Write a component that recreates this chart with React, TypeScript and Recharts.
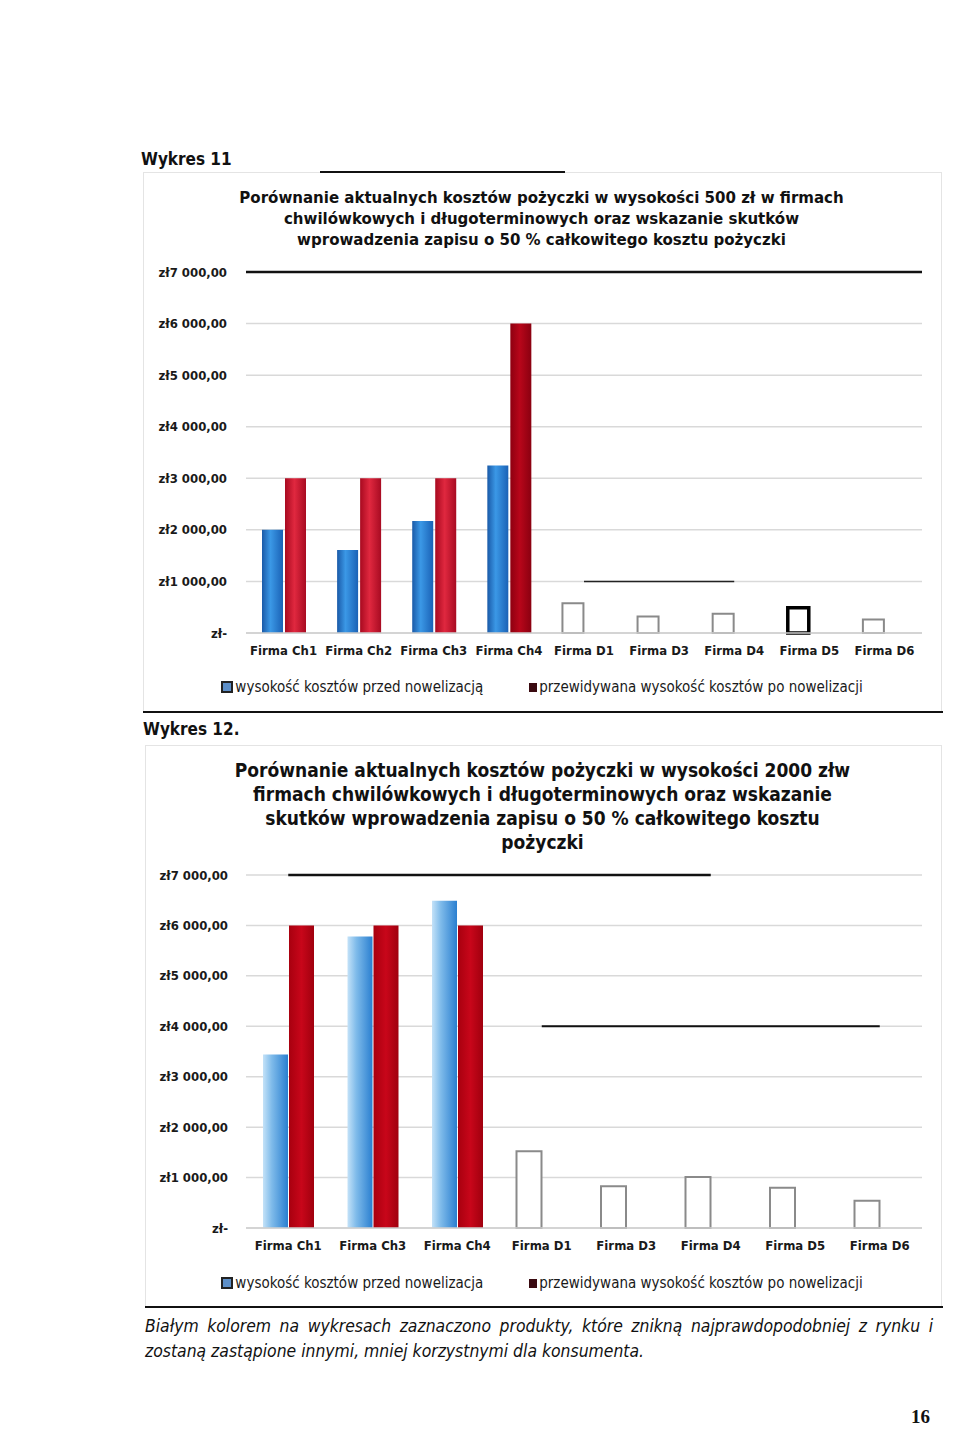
import React from "react";
import {
  BarChart,
  Bar,
  Cell,
  XAxis,
  YAxis,
  CartesianGrid,
  Legend,
  ReferenceLine,
} from "recharts";

// Wykres 11 - pożyczka 500 zł
const firms11 = [
  "Firma Ch1",
  "Firma Ch2",
  "Firma Ch3",
  "Firma Ch4",
  "Firma D1",
  "Firma D3",
  "Firma D4",
  "Firma D5",
  "Firma D6",
];
const before11 = [2000, 1610, 2170, 3250, 575, 320, 375, 490, 260];
const after11 = [3000, 3000, 3000, 6000, null, null, null, null, null];

// Wykres 12 - pożyczka 2000 zł
const firms12 = [
  "Firma Ch1",
  "Firma Ch3",
  "Firma Ch4",
  "Firma D1",
  "Firma D3",
  "Firma D4",
  "Firma D5",
  "Firma D6",
];
const before12 = [3440, 5780, 6490, 1520, 830, 1010, 800, 540];
const after12 = [6000, 6000, 6000, null, null, null, null, null];

const yTicks = [0, 1000, 2000, 3000, 4000, 5000, 6000, 7000];

const title11 = [
  "Porównanie aktualnych kosztów pożyczki w wysokości 500 zł w firmach",
  "chwilówkowych i długoterminowych oraz wskazanie skutków",
  "wprowadzenia zapisu o 50 % całkowitego kosztu pożyczki",
];
const title12 = [
  "Porównanie aktualnych kosztów pożyczki w wysokości 2000 złw",
  "firmach chwilówkowych i długoterminowych oraz wskazanie",
  "skutków wprowadzenia zapisu o 50 % całkowitego kosztu",
  "pożyczki",
];
const legendNames11 = [
  "wysokość kosztów przed nowelizacją",
  "przewidywana wysokość kosztów po nowelizacji",
];
const legendNames12 = [
  "wysokość kosztów przed nowelizacja",
  "przewidywana wysokość kosztów po nowelizacji",
];

const FONT = "'DejaVu Sans Condensed', 'Liberation Sans Narrow', sans-serif";

const formatZl = (v: number) => {
  if (v === 0) return "zł-";
  const th = Math.floor(v / 1000);
  const rest = String(v % 1000).padStart(3, "0");
  return `zł${th} ${rest},00`;
};

const buildRows = (
  firms: string[],
  before: number[],
  after: (number | null)[]
) =>
  firms.map((name, i) => ({
    name,
    before: before[i],
    after: after[i],
    removed: name.startsWith("Firma D"),
  }));

const rows11 = buildRows(firms11, before11, after11);
const rows12 = buildRows(firms12, before12, after12);

const makeLegend = (names: string[]) => () =>
  (
    <div
      style={{
        display: "flex",
        justifyContent: "center",
        gap: 46,
        fontFamily: FONT,
        fontSize: 15,
        color: "#1a1a1a",
        lineHeight: "24px",
        paddingLeft: 6,
      }}
    >
      <span style={{ display: "flex", alignItems: "center" }}>
        <span
          style={{
            width: 8,
            height: 8,
            border: "2px solid #222",
            background: "#5d8fc8",
            marginRight: 2,
          }}
        />
        {names[0]}
      </span>
      <span style={{ display: "flex", alignItems: "center" }}>
        <span
          style={{
            width: 8,
            height: 9,
            background: "#3a0a10",
            marginRight: 2,
          }}
        />
        {names[1]}
      </span>
    </div>
  );

const Box: React.FC<{
  top: number;
  left: number;
  width: number;
  height: number;
}> = ({ top, left, width, height }) => (
  <div
    style={{
      position: "absolute",
      top,
      left,
      width,
      height,
      border: "1px solid #e4e4e4",
      boxSizing: "border-box",
    }}
  />
);

const HLine: React.FC<{ top: number; left: number; width: number; h?: number }> = ({
  top,
  left,
  width,
  h = 2,
}) => (
  <div
    style={{
      position: "absolute",
      top,
      left,
      width,
      height: h,
      background: "#111",
    }}
  />
);

const App: React.FC = () => {
  return (
    <div
      style={{
        position: "absolute",
        left: 0,
        top: 0,
        width: 960,
        height: 1450,
        background: "#fff",
        fontFamily: FONT,
        color: "#111",
        overflow: "hidden",
      }}
    >
      {/* ---------- Wykres 11 ---------- */}
      <div
        style={{
          position: "absolute",
          left: 141,
          top: 149,
          fontSize: 17,
          fontWeight: "bold",
        }}
      >
        Wykres 11
      </div>
      <Box top={172} left={143} width={799} height={541} />
      <HLine top={171} left={320} width={245} />
      <div
        style={{
          position: "absolute",
          left: 143,
          top: 187,
          width: 797,
          textAlign: "center",
          fontSize: 16.7,
          fontWeight: "bold",
          lineHeight: "21px",
        }}
      >
        {title11.map((t) => (
          <div key={t}>{t}</div>
        ))}
      </div>
      <div style={{ position: "absolute", left: 143, top: 262 }}>
        <BarChart
          width={797}
          height={440}
          data={rows11}
          margin={{ top: 10, right: 18, left: 13, bottom: 15 }}
          barSize={21}
          barGap={2}
          barCategoryGap={0}
        >
          <defs>
            <linearGradient id="blue11" x1="0" y1="0" x2="1" y2="0">
              <stop offset="0%" stopColor="#1a5aa8" />
              <stop offset="40%" stopColor="#3b98e6" />
              <stop offset="100%" stopColor="#1a62b6" />
            </linearGradient>
            <linearGradient id="red11" x1="0" y1="0" x2="1" y2="0">
              <stop offset="0%" stopColor="#a80a20" />
              <stop offset="45%" stopColor="#e0283f" />
              <stop offset="100%" stopColor="#a80b22" />
            </linearGradient>
            <linearGradient id="red11dark" x1="0" y1="0" x2="1" y2="0">
              <stop offset="0%" stopColor="#8e0010" />
              <stop offset="45%" stopColor="#b8061a" />
              <stop offset="100%" stopColor="#8a0010" />
            </linearGradient>
          </defs>
          <CartesianGrid vertical={false} stroke="#d9d9d9" strokeWidth={1.5} />
          <XAxis
            dataKey="name"
            axisLine={{ stroke: "#cfcfcf", strokeWidth: 1.5 }}
            tickLine={false}
            height={30}
            tickMargin={7}
            interval={0}
            tick={{ fontSize: 13, fontWeight: "bold", fill: "#1a1a1a", fontFamily: FONT }}
          />
          <YAxis
            domain={[0, 7000]}
            ticks={yTicks}
            width={90}
            axisLine={false}
            tickLine={false}
            tickMargin={13}
            tickFormatter={formatZl}
            tick={{ fontSize: 13, fontWeight: "bold", fill: "#1a1a1a", fontFamily: FONT }}
          />
          <ReferenceLine y={7000} stroke="#111" strokeWidth={2.5} />
          <ReferenceLine
            segment={[
              { x: "Firma D1", y: 1000 },
              { x: "Firma D4", y: 1000 },
            ]}
            stroke="#222"
            strokeWidth={1.5}
          />
          <Legend
            verticalAlign="bottom"
            height={24}
            wrapperStyle={{ top: 413 }}
            content={makeLegend(legendNames11)}
          />
          <Bar dataKey="before" name={legendNames11[0]} fill="url(#blue11)" isAnimationActive={false}>
            {rows11.map((r) => (
              <Cell
                key={r.name}
                fill={r.removed ? "#ffffff" : "url(#blue11)"}
                stroke={r.removed ? (r.name === "Firma D5" ? "#000" : "#8a8a8a") : "none"}
                strokeWidth={r.removed ? (r.name === "Firma D5" ? 3.5 : 2) : 0}
              />
            ))}
          </Bar>
          <Bar dataKey="after" name={legendNames11[1]} fill="url(#red11)" isAnimationActive={false}>
            {rows11.map((r) => (
              <Cell
                key={r.name}
                fill={r.name === "Firma Ch4" ? "url(#red11dark)" : "url(#red11)"}
              />
            ))}
          </Bar>
        </BarChart>
      </div>
      <HLine top={711} left={143} width={800} />

      {/* ---------- Wykres 12 ---------- */}
      <div
        style={{
          position: "absolute",
          left: 143,
          top: 719,
          fontSize: 17,
          fontWeight: "bold",
        }}
      >
        Wykres 12.
      </div>
      <Box top={745} left={145} width={797} height={563} />
      <div
        style={{
          position: "absolute",
          left: 145,
          top: 758,
          width: 795,
          textAlign: "center",
          fontSize: 19,
          fontWeight: "bold",
          lineHeight: "24px",
        }}
      >
        {title12.map((t) => (
          <div key={t}>{t}</div>
        ))}
      </div>
      <div style={{ position: "absolute", left: 143, top: 865 }}>
        <BarChart
          width={797}
          height={445}
          data={rows12}
          margin={{ top: 10, right: 18, left: 13, bottom: 28 }}
          barSize={25}
          barGap={1}
          barCategoryGap={0}
        >
          <defs>
            <linearGradient id="blue12" x1="0" y1="0" x2="1" y2="0">
              <stop offset="0%" stopColor="#c4e2f8" />
              <stop offset="35%" stopColor="#7fbbea" />
              <stop offset="100%" stopColor="#2a7fd0" />
            </linearGradient>
            <linearGradient id="red12" x1="0" y1="0" x2="1" y2="0">
              <stop offset="0%" stopColor="#a8000f" />
              <stop offset="50%" stopColor="#c8061a" />
              <stop offset="100%" stopColor="#a0000e" />
            </linearGradient>
          </defs>
          <CartesianGrid vertical={false} stroke="#d9d9d9" strokeWidth={1.5} />
          <XAxis
            dataKey="name"
            axisLine={{ stroke: "#cfcfcf", strokeWidth: 1.5 }}
            tickLine={false}
            height={30}
            tickMargin={7}
            interval={0}
            tick={{ fontSize: 13, fontWeight: "bold", fill: "#1a1a1a", fontFamily: FONT }}
          />
          <YAxis
            domain={[0, 7000]}
            ticks={yTicks}
            width={90}
            axisLine={false}
            tickLine={false}
            tickMargin={12}
            tickFormatter={formatZl}
            tick={{ fontSize: 13, fontWeight: "bold", fill: "#1a1a1a", fontFamily: FONT }}
          />
          <ReferenceLine
            segment={[
              { x: "Firma Ch1", y: 7000 },
              { x: "Firma D4", y: 7000 },
            ]}
            stroke="#111"
            strokeWidth={2.5}
          />
          <ReferenceLine
            segment={[
              { x: "Firma D1", y: 4000 },
              { x: "Firma D6", y: 4000 },
            ]}
            stroke="#111"
            strokeWidth={2}
          />
          <Legend
            verticalAlign="bottom"
            height={24}
            wrapperStyle={{ top: 406 }}
            content={makeLegend(legendNames12)}
          />
          <Bar dataKey="before" name={legendNames12[0]} fill="url(#blue12)" isAnimationActive={false}>
            {rows12.map((r) => (
              <Cell
                key={r.name}
                fill={r.removed ? "#ffffff" : "url(#blue12)"}
                stroke={r.removed ? "#8a8a8a" : "none"}
                strokeWidth={r.removed ? 2 : 0}
              />
            ))}
          </Bar>
          <Bar dataKey="after" name={legendNames12[1]} fill="url(#red12)" isAnimationActive={false} />
        </BarChart>
      </div>
      <HLine top={1306} left={145} width={798} />

      {/* ---------- przypis ---------- */}
      <div
        style={{
          position: "absolute",
          left: 145,
          top: 1314,
          width: 788,
          fontSize: 17.4,
          fontStyle: "italic",
          lineHeight: "25px",
        }}
      >
        <div style={{ textAlign: "justify", textAlignLast: "justify" }}>
          Białym kolorem na wykresach zaznaczono produkty, które znikną najprawdopodobniej z rynku i
        </div>
        <div>zostaną zastąpione innymi, mniej korzystnymi dla konsumenta.</div>
      </div>
      <div
        style={{
          position: "absolute",
          left: 911,
          top: 1406,
          fontSize: 19,
          fontWeight: "bold",
          fontFamily: "'Liberation Serif', serif",
        }}
      >
        16
      </div>
    </div>
  );
};

export default App;
